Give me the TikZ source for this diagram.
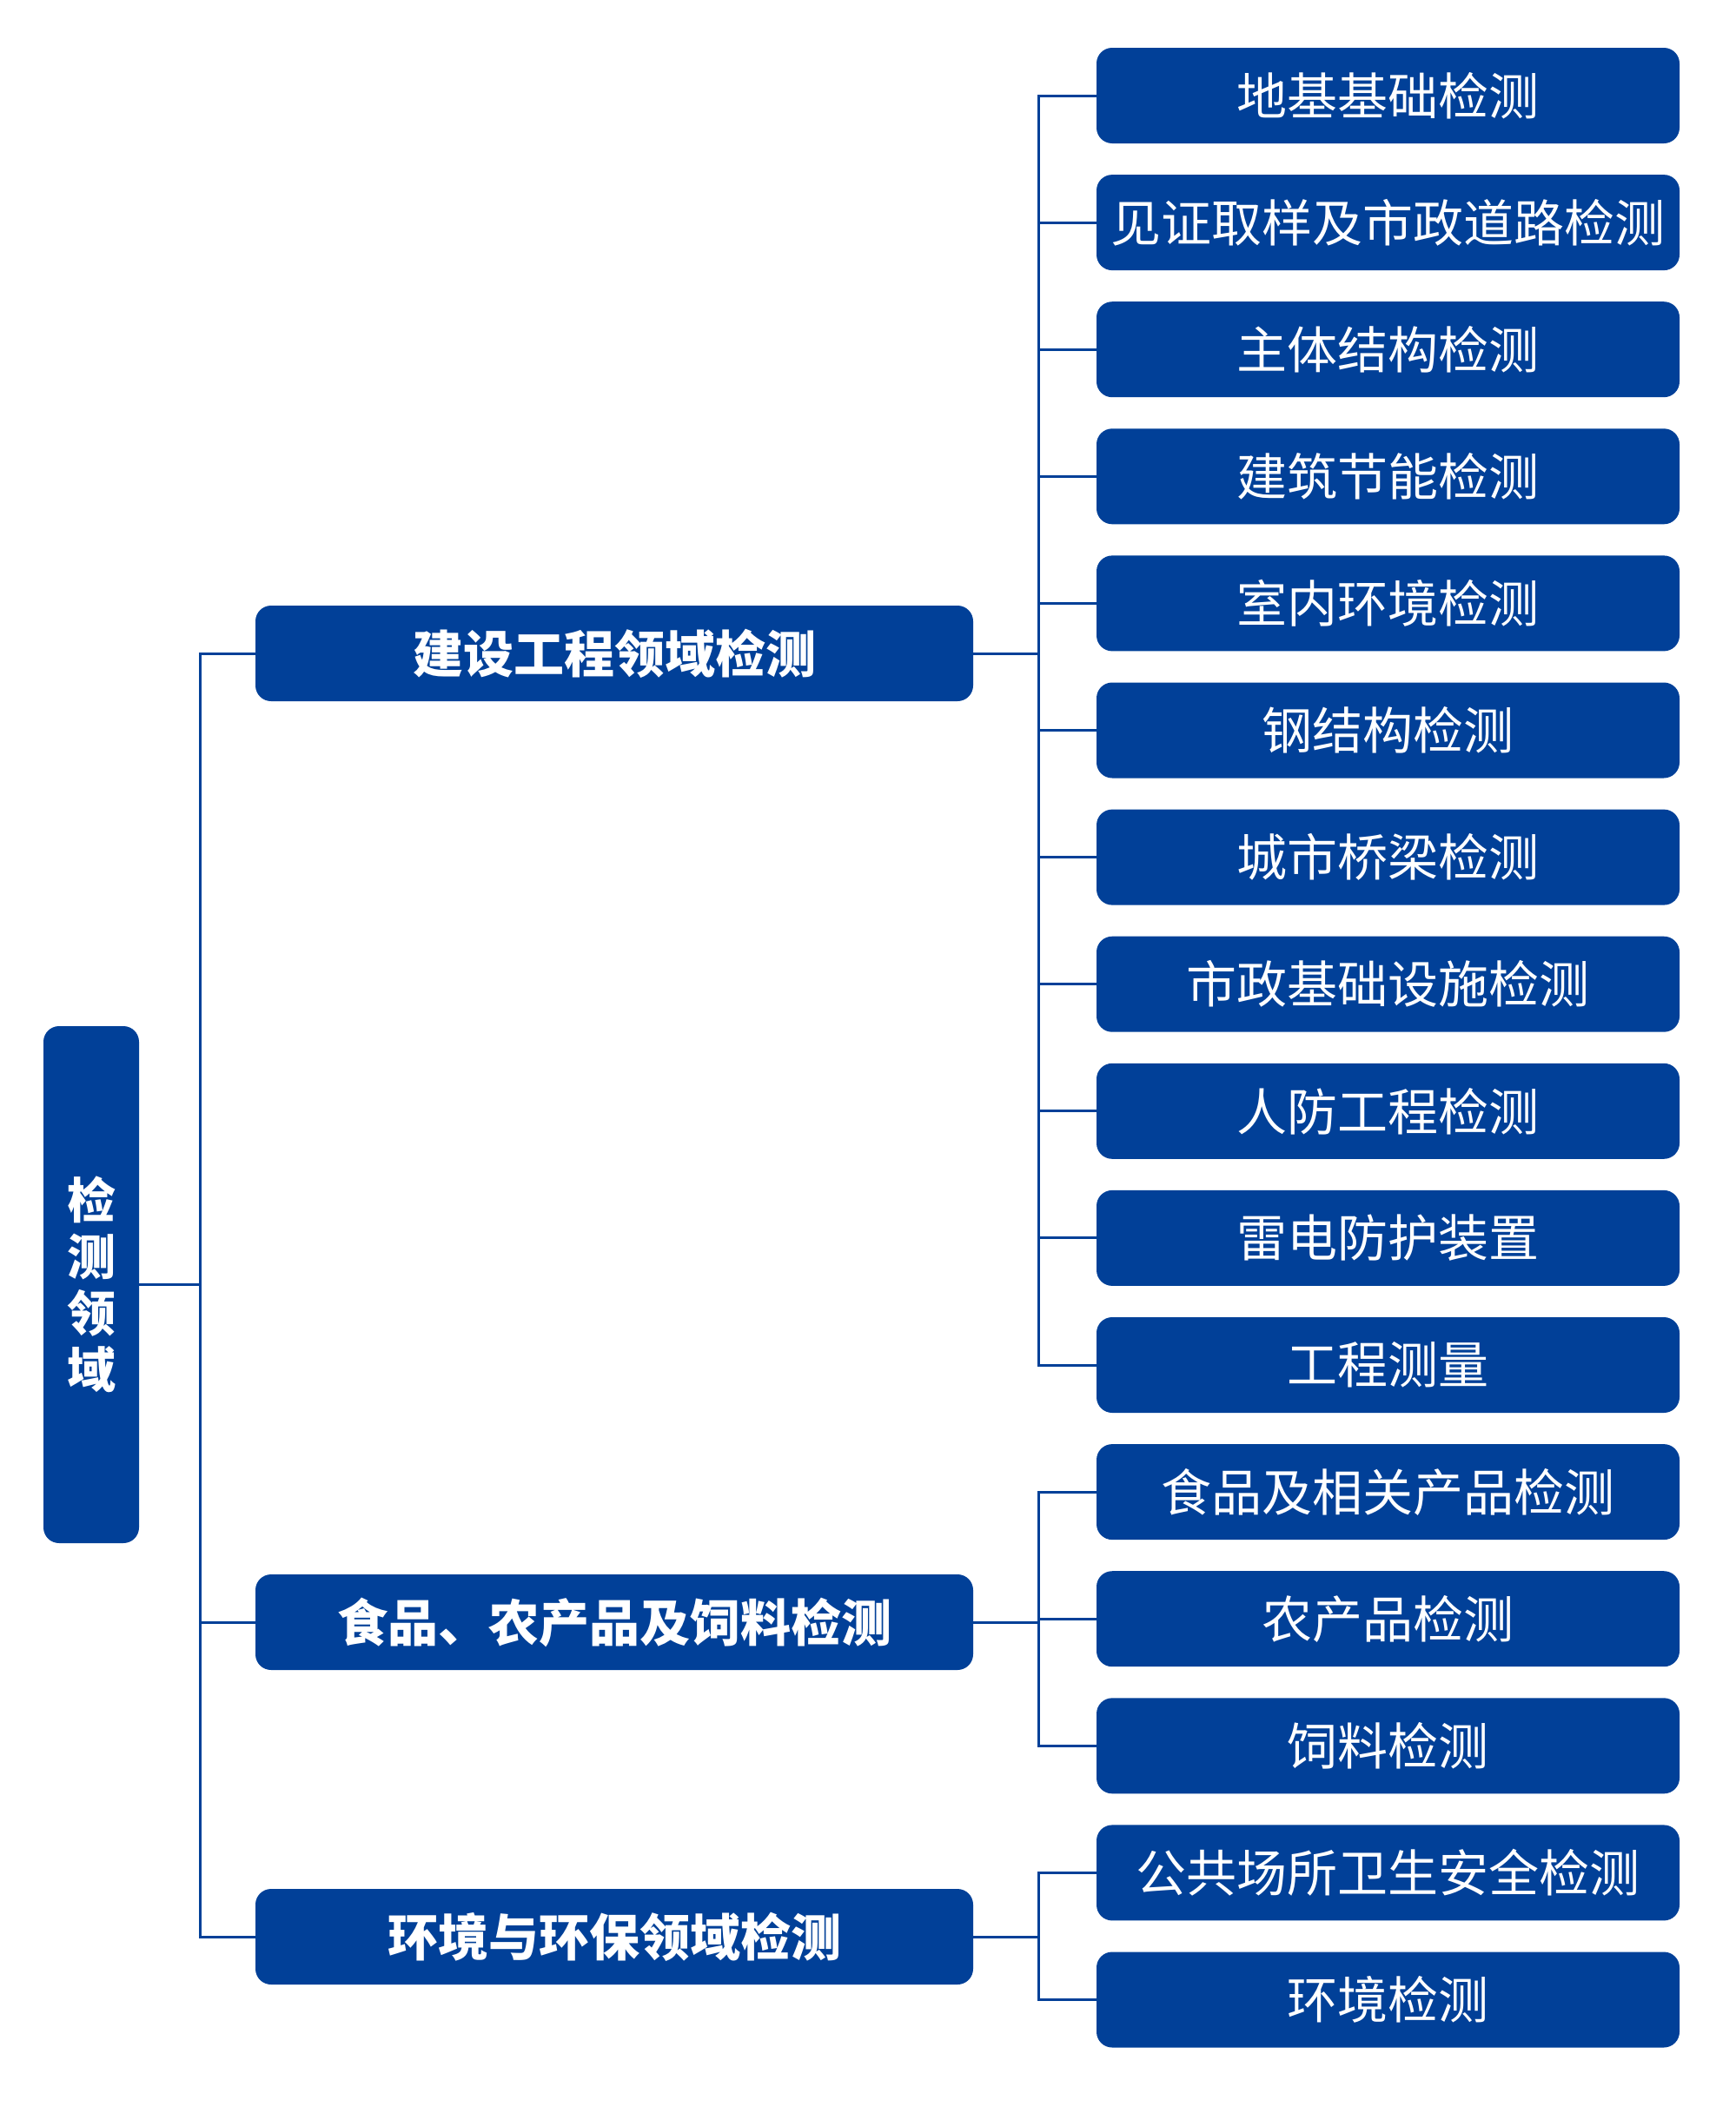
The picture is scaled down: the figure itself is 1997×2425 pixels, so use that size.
\documentclass[tikz,border=0pt]{standalone}
\usepackage{fontspec}
\setmainfont{Noto Sans CJK SC}
\definecolor{fieldblue}{RGB}{1,64,152}
\tikzset{
  field/.style={fill=fieldblue, rounded corners=18pt, text=white, inner sep=0pt, align=center},
  topfield/.style={field, minimum width=110pt, minimum height=595pt, font=\bfseries\fontsize{56}{65}\selectfont},
  mainfield/.style={field, minimum width=826pt, minimum height=110pt, font=\bfseries\fontsize{58}{60}\selectfont},
  subfield/.style={field, minimum width=671pt, minimum height=110pt, font=\fontsize{58}{60}\selectfont},
  branch/.style={draw=fieldblue, line width=3pt}
}
\begin{document}
\begin{tikzpicture}[x=1pt,y=-1pt]
  \useasboundingbox (0,0) rectangle (1997,2425);

  \node [topfield] (root) at (105,1478.5) {检\\测\\领\\域};

  \node [mainfield] (build) at (707,752) {建设工程领域检测};
  \node [mainfield] (food) at (707,1867) {食品、农产品及饲料检测};
  \node [mainfield] (env) at (707,2229) {环境与环保领域检测};

  \foreach \name [count=\i] in {地基基础检测,见证取样及市政道路检测,主体结构检测,建筑节能检测,室内环境检测,钢结构检测,城市桥梁检测,市政基础设施检测,人防工程检测,雷电防护装置,工程测量,食品及相关产品检测,农产品检测,饲料检测,公共场所卫生安全检测,环境检测}
    \node [subfield] (s\i) at (1597.5,{110+(\i-1)*146.1}) {\name};

  \foreach \g in {build,food,env}
    \draw [branch] (root.east) -- ++(70,0) |- (\g.west);

  \foreach \i in {1,...,11}
    \draw [branch] (build.east) -- ++(75,0) |- (s\i.west);
  \foreach \i in {12,13,14}
    \draw [branch] (food.east) -- ++(75,0) |- (s\i.west);
  \foreach \i in {15,16}
    \draw [branch] (env.east) -- ++(75,0) |- (s\i.west);
\end{tikzpicture}
\end{document}
